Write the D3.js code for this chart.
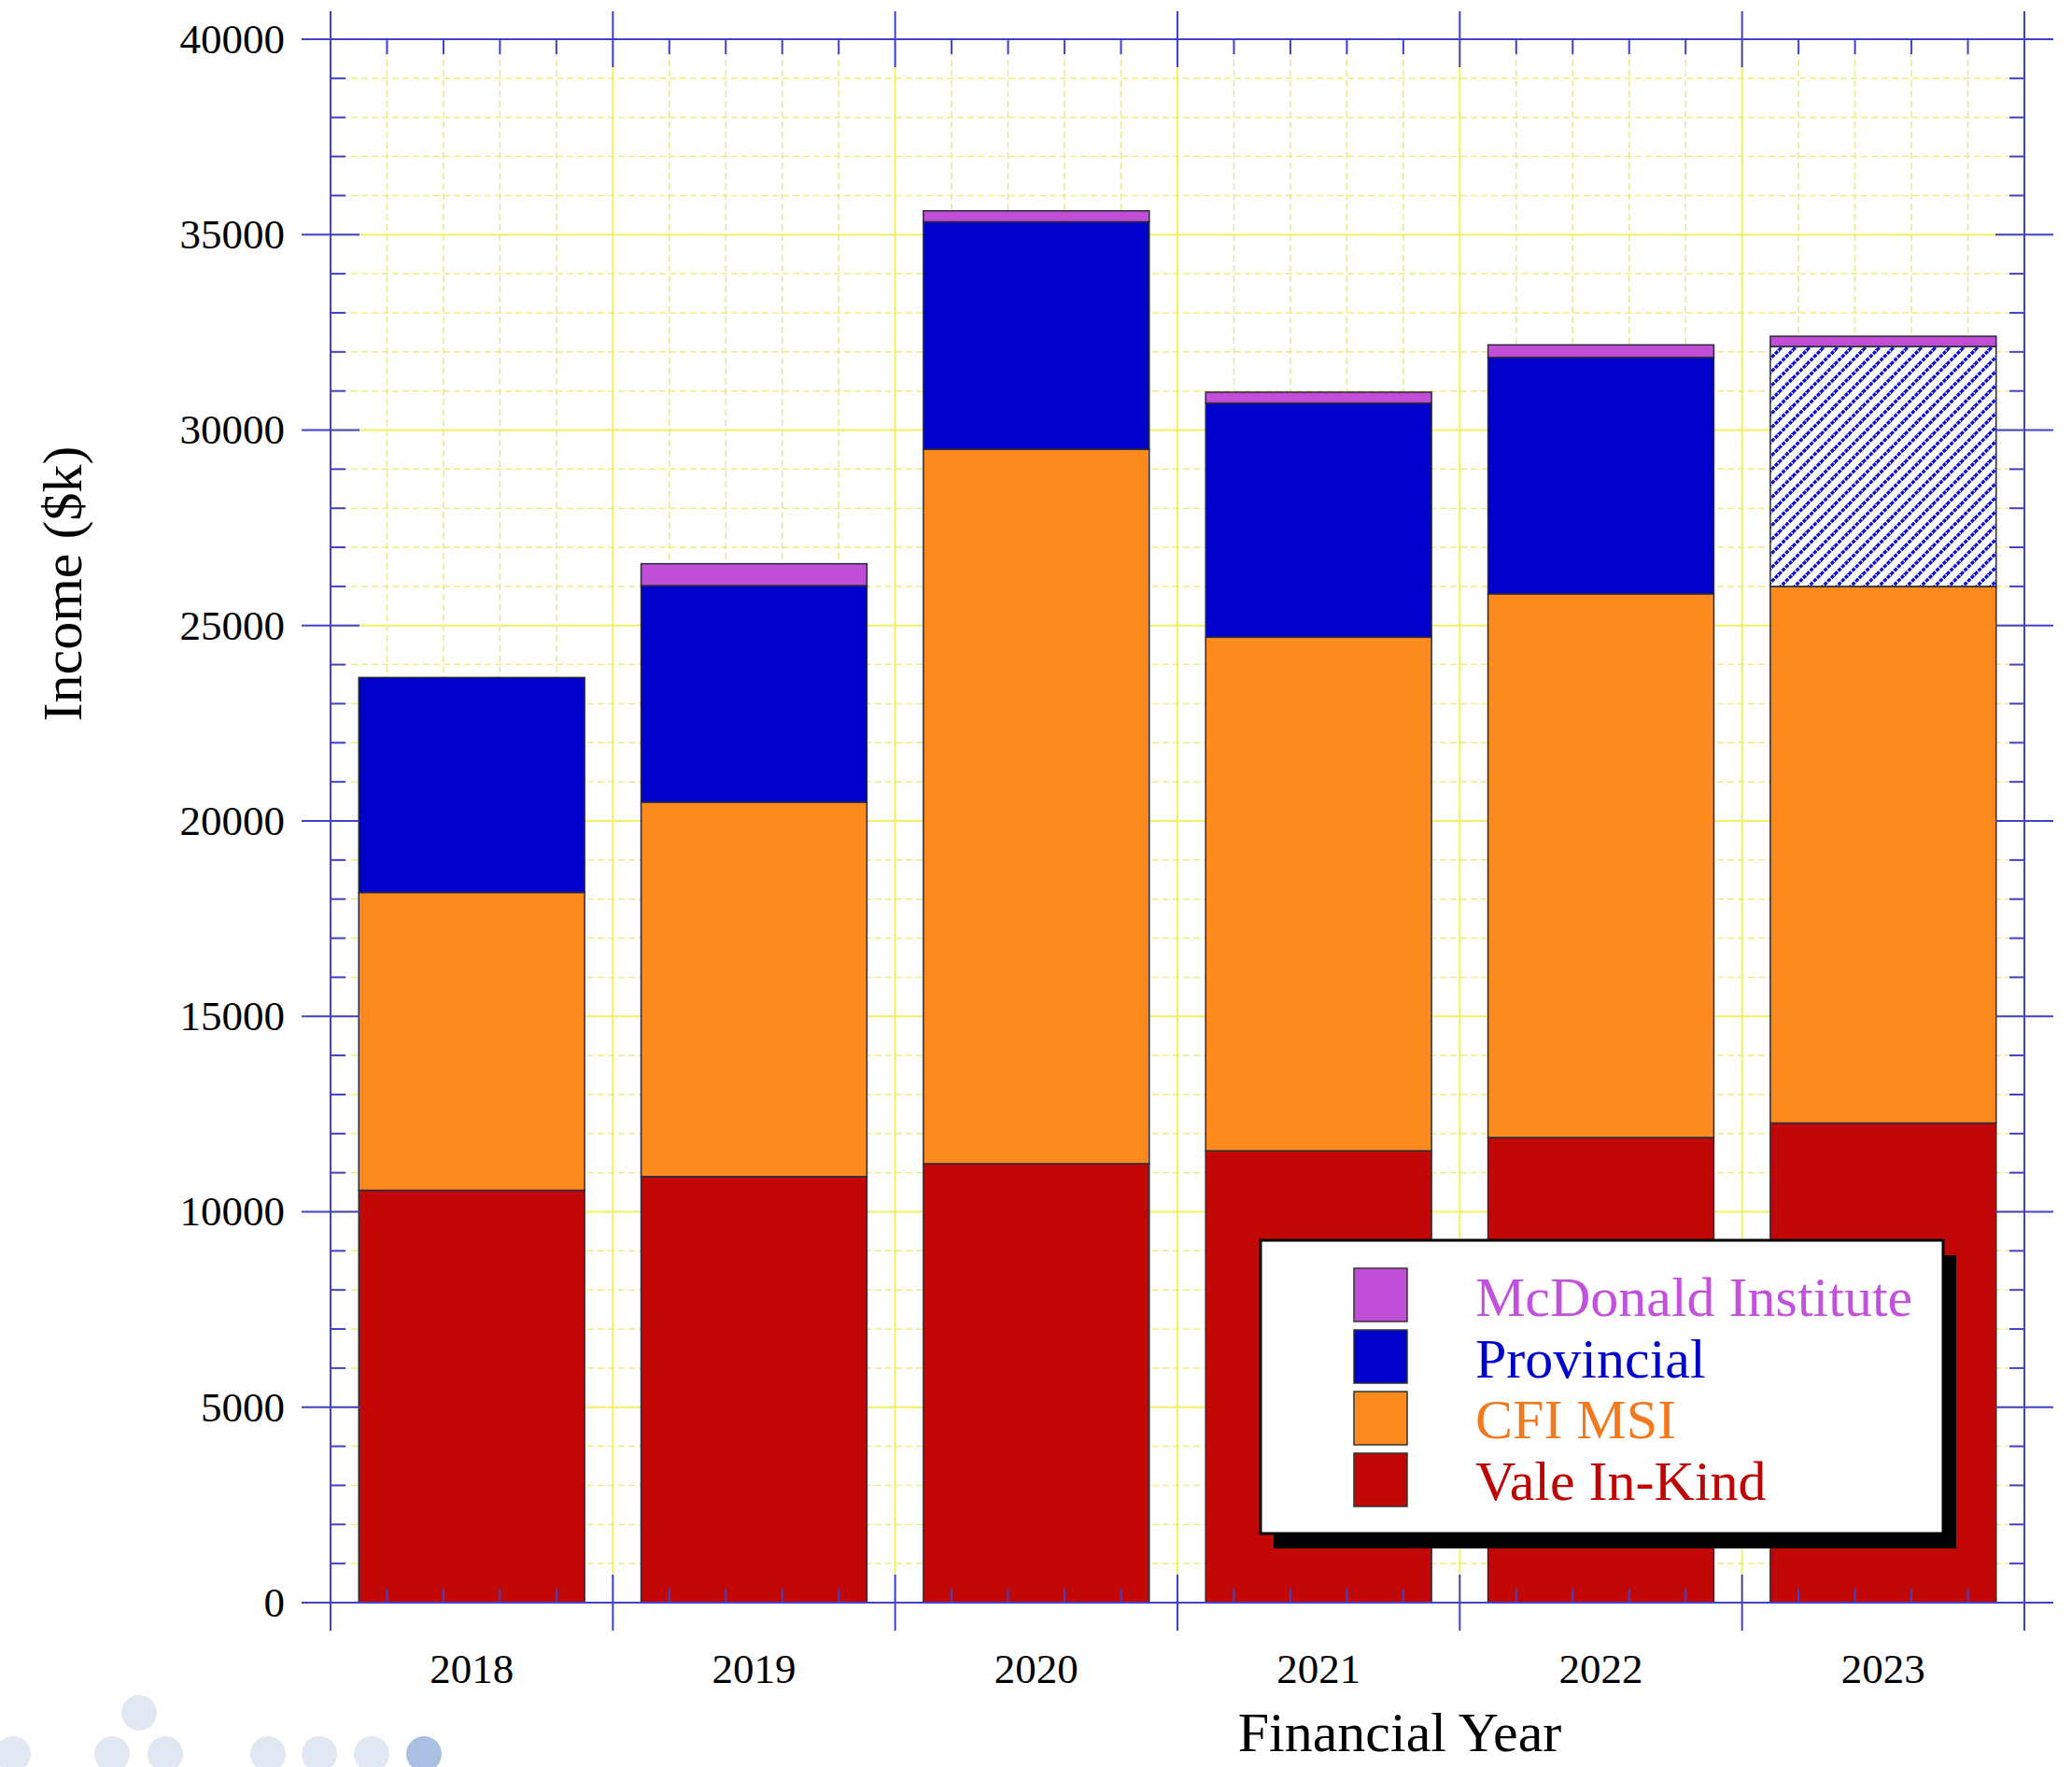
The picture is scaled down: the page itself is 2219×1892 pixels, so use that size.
<!DOCTYPE html>
<meta charset="utf-8">
<script src="https://d3js.org/d3.v7.min.js"></script>
<style>
  body { margin: 0; background: #fff; }
  text { font-family: "Liberation Serif", "DejaVu Serif", serif; }
</style>
<div id="chart"></div>
<script>
    // data (k$)
    var years = ["2018", "2019", "2020", "2021", "2022", "2023"];
    var valeInKind = [10550, 10900, 11230, 11560, 11900, 12270];
    var cfiMsi = [7620, 9580, 18280, 13140, 13910, 13730];
    var provincial = [5500, 5540, 5820, 5990, 6050, 6140];
    var mcdonald = [0, 560, 280, 280, 320, 260];
    var projectedYears = ["2023"]; // provincial drawn hatched
    var yTickValues = [0, 5000, 10000, 15000, 20000, 25000, 30000, 35000, 40000];

    var seriesKeys = ["vale", "cfi", "prov", "mcd"];
    var seriesNames = {mcd: "McDonald Institute", prov: "Provincial", cfi: "CFI MSI", vale: "Vale In-Kind"};
    var colors = {vale: "#c20806", cfi: "#fd8a1e", prov: "#0000cd", mcd: "#c04ed6"};
    var textColors = {vale: "#c00404", cfi: "#f27a1e", prov: "#0000cc", mcd: "#c252dc"};

    var width = 2219, height = 1892;
    var plot = {left: 354, right: 2168, top: 42, bottom: 1716};
    var axisColor = "#4141cc";

    var svg = d3.select("#chart").append("svg")
        .attr("width", width)
        .attr("height", height);

    // diagonal hatch for the projected provincial amount
    var hs = 15;
    var defs = svg.append("defs");
    var hatch = defs.append("pattern")
        .attr("id", "hatch")
        .attr("patternUnits", "userSpaceOnUse")
        .attr("width", hs)
        .attr("height", hs);
    hatch.append("rect").attr("width", hs).attr("height", hs).attr("fill", "#fff");
    hatch.append("path")
        .attr("d", "M-2,2 L2,-2 M0," + hs + " L" + hs + ",0 M" + (hs - 2) + "," + (hs + 2) + " L" + (hs + 2) + "," + (hs - 2))
        .attr("stroke", "#1010d0")
        .attr("stroke-width", 3.4)
        .attr("stroke-dasharray", "4,1.2");

    var x = d3.scaleBand()
        .domain(years)
        .range([plot.left, plot.right])
        .paddingInner(0.2)
        .paddingOuter(0.1);

    var y = d3.scaleLinear()
        .domain([0, 40000])
        .range([plot.bottom, plot.top]);

    var step = x.step();
    var bounds = years.map(function(d) { return x(d) - step * 0.1; }).concat([plot.right]);
    var minorX = [];
    bounds.slice(0, -1).forEach(function(b) {
        for (var k = 1; k < 5; k++) minorX.push(b + k * step / 5);
    });
    var minorY = d3.range(0, 40001, 1000).filter(function(v) { return v % 5000 !== 0; });

    // grid
    var grid = svg.append("g");
    grid.selectAll(null).data(minorY).enter().append("line")
        .attr("x1", plot.left).attr("x2", plot.right)
        .attr("y1", function(d) { return y(d); }).attr("y2", function(d) { return y(d); })
        .attr("stroke", "#eded80").attr("stroke-width", 1.5).attr("stroke-dasharray", "7,4");
    grid.selectAll(null).data(minorX).enter().append("line")
        .attr("y1", plot.top).attr("y2", plot.bottom)
        .attr("x1", function(d) { return d; }).attr("x2", function(d) { return d; })
        .attr("stroke", "#e8e890").attr("stroke-width", 1.5).attr("stroke-dasharray", "7,4");
    grid.selectAll(null).data(yTickValues.slice(1, -1)).enter().append("line")
        .attr("x1", plot.left).attr("x2", plot.right)
        .attr("y1", function(d) { return y(d); }).attr("y2", function(d) { return y(d); })
        .attr("stroke", "#f0f060").attr("stroke-width", 2);
    grid.selectAll(null).data(bounds.slice(1, -1)).enter().append("line")
        .attr("y1", plot.top).attr("y2", plot.bottom)
        .attr("x1", function(d) { return d; }).attr("x2", function(d) { return d; })
        .attr("stroke", "#f0f060").attr("stroke-width", 2);

    // bars
    var table = years.map(function(yr, i) {
        return {year: yr, vale: valeInKind[i], cfi: cfiMsi[i], prov: provincial[i], mcd: mcdonald[i]};
    });
    var stacked = d3.stack().keys(seriesKeys)(table);

    svg.append("g").selectAll("g")
        .data(stacked)
        .enter()
        .append("g")
        .each(function(layer) {
            d3.select(this).selectAll("rect")
                .data(layer.filter(function(d) { return d[1] - d[0] > 0; }))
                .enter()
                .append("rect")
                .attr("x", function(d) { return x(d.data.year); })
                .attr("y", function(d) { return y(d[1]); })
                .attr("width", x.bandwidth())
                .attr("height", function(d) { return y(d[0]) - y(d[1]); })
                .attr("fill", function(d) {
                    if (layer.key === "prov" && projectedYears.indexOf(d.data.year) >= 0) return "url(#hatch)";
                    return colors[layer.key];
                })
                .attr("stroke", "#2a2a3a")
                .attr("stroke-width", 1.5);
        });

    // axes frame and ticks
    var axes = svg.append("g").attr("stroke", axisColor);
    axes.append("rect")
        .attr("x", plot.left).attr("y", plot.top)
        .attr("width", plot.right - plot.left).attr("height", plot.bottom - plot.top)
        .attr("fill", "none").attr("stroke-width", 2);
    // major y ticks, both sides
    [plot.left, plot.right].forEach(function(px) {
        axes.selectAll(null).data(yTickValues).enter().append("line")
            .attr("x1", px - 31).attr("x2", px + 31)
            .attr("y1", function(d) { return y(d); }).attr("y2", function(d) { return y(d); })
            .attr("stroke-width", 2);
    });
    // minor y ticks inward
    axes.selectAll(null).data(minorY).enter().append("line")
        .attr("x1", plot.left).attr("x2", plot.left + 16)
        .attr("y1", function(d) { return y(d); }).attr("y2", function(d) { return y(d); })
        .attr("stroke-width", 2);
    axes.selectAll(null).data(minorY).enter().append("line")
        .attr("x1", plot.right - 16).attr("x2", plot.right)
        .attr("y1", function(d) { return y(d); }).attr("y2", function(d) { return y(d); })
        .attr("stroke-width", 2);
    // major x ticks at band boundaries, top and bottom
    [plot.top, plot.bottom].forEach(function(py) {
        axes.selectAll(null).data(bounds).enter().append("line")
            .attr("y1", py - 30).attr("y2", py + 30)
            .attr("x1", function(d) { return d; }).attr("x2", function(d) { return d; })
            .attr("stroke-width", 2);
    });
    axes.selectAll(null).data(minorX).enter().append("line")
        .attr("y1", plot.bottom - 15).attr("y2", plot.bottom)
        .attr("x1", function(d) { return d; }).attr("x2", function(d) { return d; })
        .attr("stroke-width", 2);
    axes.selectAll(null).data(minorX).enter().append("line")
        .attr("y1", plot.top).attr("y2", plot.top + 16)
        .attr("x1", function(d) { return d; }).attr("x2", function(d) { return d; })
        .attr("stroke-width", 2);

    // tick labels
    var yAxis = svg.append("g")
        .attr("transform", "translate(" + plot.left + ",0)")
        .call(d3.axisLeft(y).tickValues(yTickValues).tickSize(31).tickPadding(18).tickFormat(d3.format("d")));
    yAxis.select(".domain").remove();
    yAxis.selectAll("line").remove();
    yAxis.selectAll("text")
        .attr("font-size", "45px")
        .attr("font-family", "Liberation Serif")
        .attr("fill", "#000");

    var xAxis = svg.append("g")
        .attr("transform", "translate(0," + plot.bottom + ")")
        .call(d3.axisBottom(x).tickSize(0).tickPadding(54));
    xAxis.select(".domain").remove();
    xAxis.selectAll("text")
        .attr("font-size", "45px")
        .attr("font-family", "Liberation Serif")
        .attr("fill", "#000");

    // axis titles
    svg.append("text")
        .attr("transform", "translate(87,625) rotate(-90)")
        .attr("text-anchor", "middle")
        .attr("font-size", "60px")
        .attr("fill", "#000")
        .text("Income ($k)");

    svg.append("text")
        .attr("x", 1499)
        .attr("y", 1875)
        .attr("text-anchor", "middle")
        .attr("font-size", "60px")
        .attr("fill", "#000")
        .text("Financial Year");

    // legend
    var legendKeys = ["mcd", "prov", "cfi", "vale"];
    var legend = svg.append("g").attr("transform", "translate(1350,1328)");
    legend.append("rect")
        .attr("x", 14).attr("y", 16)
        .attr("width", 731).attr("height", 314)
        .attr("fill", "#000");
    legend.append("rect")
        .attr("width", 731).attr("height", 314)
        .attr("fill", "#fff")
        .attr("stroke", "#000")
        .attr("stroke-width", 3);
    legend.selectAll(null).data(legendKeys).enter().append("rect")
        .attr("x", 100)
        .attr("y", function(d, i) { return 30 + i * 66; })
        .attr("width", 57)
        .attr("height", 57)
        .attr("fill", function(d) { return colors[d]; })
        .attr("stroke", "#333")
        .attr("stroke-width", 1.5);
    legend.selectAll(null).data(legendKeys).enter().append("text")
        .attr("x", 230)
        .attr("y", function(d, i) { return 81 + i * 65.5; })
        .attr("font-size", "60px")
        .attr("fill", function(d) { return textColors[d]; })
        .text(function(d) { return seriesNames[d]; });

    // faint dots in the bottom-left corner
    var dots = [[149, 1834], [14, 1878], [120, 1878], [177, 1878], [287, 1878], [342, 1878], [398, 1878], [454, 1878]];
    svg.append("g").selectAll("circle")
        .data(dots)
        .enter()
        .append("circle")
        .attr("cx", function(d) { return d[0]; })
        .attr("cy", function(d) { return d[1]; })
        .attr("r", 19)
        .attr("fill", function(d, i) { return i === dots.length - 1 ? "#a9c0e3" : "#e1e7f3"; });
</script>
